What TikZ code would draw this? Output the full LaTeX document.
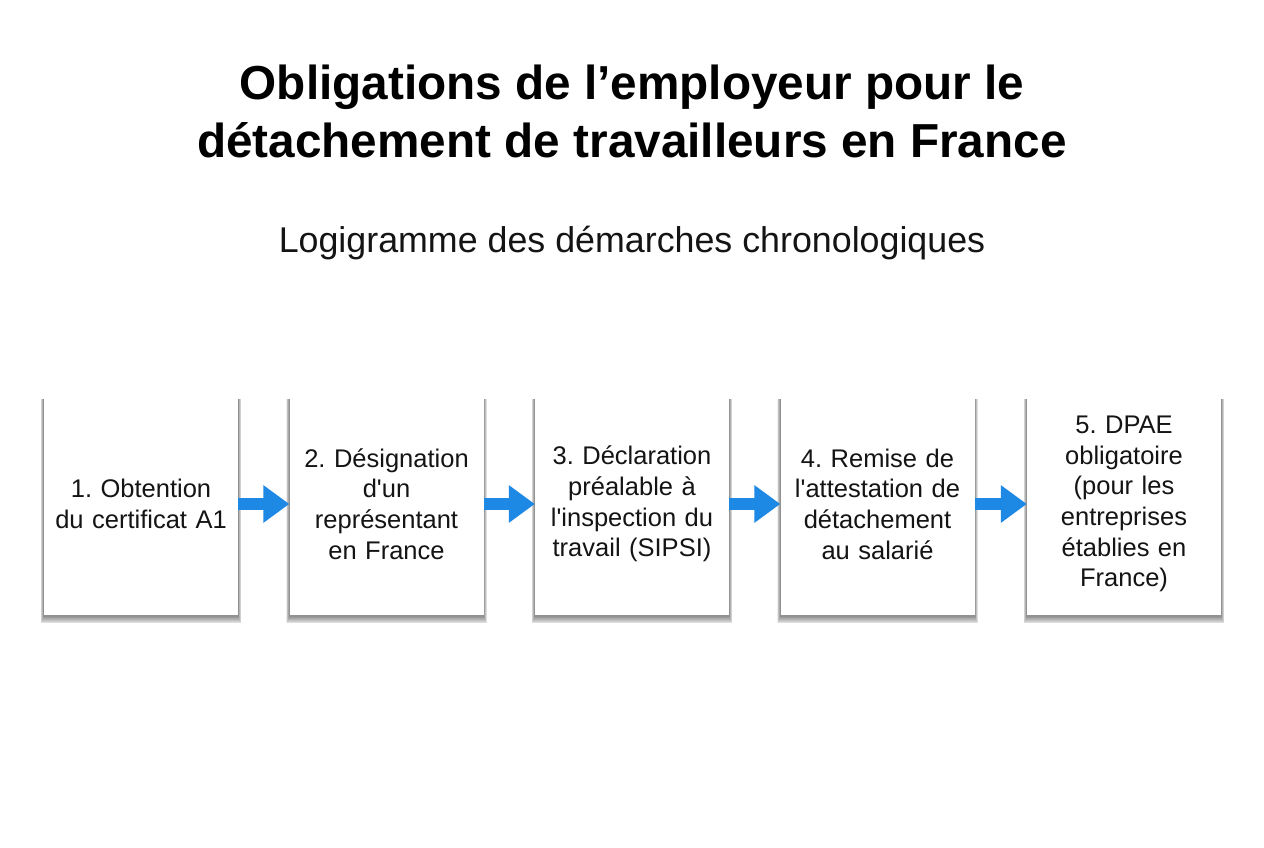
\documentclass[tikz,border=0pt]{standalone}
\usepackage{fontspec}
\setmainfont{Liberation Sans}
\usetikzlibrary{arrows.meta}
\pgfdeclarelayer{background}
\pgfsetlayers{background,main}
\definecolor{arrowblue}{RGB}{30,136,229}
\definecolor{txt}{RGB}{20,20,20}
\newcommand{\ap}{\textquotesingle}
\frenchspacing
\begin{document}
\begin{tikzpicture}[x=1pt,y=-1pt,
  stepbox/.style={draw=none,fill=white,minimum width=192pt,minimum height=222pt,
    inner sep=4pt,align=center,text width=186pt,font=\fontsize{25.5}{30.7}\selectfont,text=txt},
  shadowlayer/.style={fill=black,opacity=0.065},
  flow/.style={draw=arrowblue,line width=12pt,-{Triangle[length=26pt,width=36pt]}}]
\useasboundingbox (0,0) rectangle (1264,848);
\begin{pgfonlayer}{background}
\fill[white] (0,0) rectangle (1264,848);
\end{pgfonlayer}
\node[font=\fontsize{47.7}{58}\selectfont\bfseries,align=center,text=black] (title) at (632,111)
  {Obligations de l’employeur pour le\\détachement de travailleurs en France};
\node[font=\fontsize{35.8}{40}\selectfont,text=txt] (sub) at (632,243) {Logigramme des démarches chronologiques};
\node[stepbox] (s1) at (141,504) {1. Obtention\\du certificat A1};
\node[stepbox] (s2) at (386.5,504) {2. Désignation\\d\ap un\\représentant\\en France};
\node[stepbox] (s3) at (632,504) {3. Déclaration\\préalable à\\l\ap inspection du\\travail (SIPSI)};
\node[stepbox] (s4) at (877.5,504) {4. Remise de\\l\ap attestation de\\détachement\\au salarié};
\node[stepbox] (s5) at (1124,504) {5. DPAE\\obligatoire\\(pour les\\entreprises\\établies en\\France)};
\begin{pgfonlayer}{background}
\foreach \n in {s1,s2,s3,s4,s5}
  \foreach \i in {1,...,8}
    \fill[shadowlayer] ([xshift=-0.4*\i pt,yshift=-6pt]\n.north west) rectangle ([xshift=0.4*\i pt,yshift={-(1+0.9*\i)*1pt}]\n.south east);
\end{pgfonlayer}
\foreach \a/\b in {s1/s2,s2/s3,s3/s4,s4/s5}
  \draw[flow] (\a.east) -- (\b.west);
\end{tikzpicture}
\end{document}
